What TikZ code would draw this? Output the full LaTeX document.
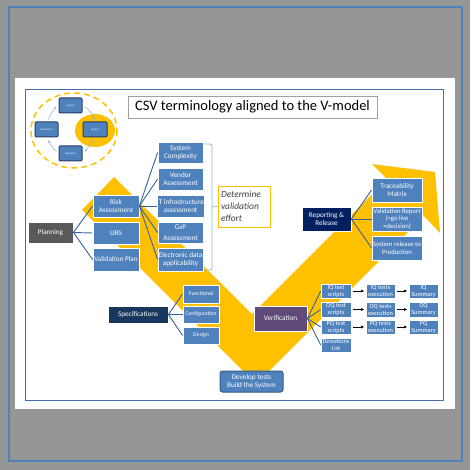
\documentclass[tikz,border=0pt]{standalone}
\usepackage{fontspec}
\setmainfont{Carlito}
\usetikzlibrary{arrows.meta}
\definecolor{frameblue}{RGB}{79,129,189}
\definecolor{slideborder}{RGB}{68,110,170}
\definecolor{boxblue}{RGB}{79,129,189}
\definecolor{lineblue}{RGB}{55,96,160}
\definecolor{plangray}{RGB}{89,89,89}
\definecolor{navyrep}{RGB}{0,32,96}
\definecolor{navyspec}{RGB}{23,55,94}
\definecolor{purplever}{RGB}{96,74,123}
\definecolor{vyellow}{RGB}{255,192,0}
\definecolor{devborder}{RGB}{56,93,138}
\definecolor{bracketblue}{RGB}{149,179,215}
\definecolor{titleborder}{RGB}{160,160,160}
\definecolor{minidark}{RGB}{40,60,100}
\definecolor{miniarr}{RGB}{142,180,227}
\definecolor{dettext}{RGB}{64,64,64}
\begin{document}
\begin{tikzpicture}[x=1pt,y=-1pt,
  bbox/.style={rectangle, fill=boxblue, draw=white, line width=0.8pt, text=white, align=center, inner sep=0pt, font=\fontsize{7.2}{7.8}\selectfont},
  sbox/.style={bbox, font=\fontsize{6.3}{7}\selectfont, line width=0.6pt},
  subbox/.style={bbox, font=\fontsize{5.7}{6.5}\selectfont},
  conn/.style={draw=lineblue, line width=0.9pt},
  blk/.style={draw=black, line width=1pt, -{Latex[length=3pt,width=3pt]}},
  minibox/.style={rectangle, fill=boxblue, draw=minidark, line width=1pt, rounded corners=1pt, text=white, inner sep=0pt, font=\fontsize{2.6}{3}\selectfont, minimum width=23pt, minimum height=15pt},
  miniarrow/.style={draw=miniarr, line width=0.6pt, -{Stealth[length=2.5pt,width=2.5pt]}}
]
\useasboundingbox (0,0) rectangle (470,470);
\path[fill=black!41] (0,0) rectangle (470,470);
\path[fill=white] (15,78) rectangle (455,409);
\draw[frameblue, line width=2pt] (9,7) rectangle (462,461);
\draw[slideborder, line width=1pt] (25,90) rectangle (443,400);
% V-model arrow
\fill[vyellow] (114,177) -- (252,314) -- (387,179) -- (372,164) -- (435,172) -- (440,233) -- (424,216) -- (256,384) -- (82,210) -- cycle;
% lifecycle mini diagram
\draw[vyellow, line width=1.5pt, dash pattern=on 6pt off 4pt] (74,130.5) ellipse [x radius=43, y radius=37.5];
\fill[vyellow] (95,130.5) ellipse [x radius=20, y radius=16.5];
\node[minibox] (concept) at (70.5,105.5) {Concept};
\node[minibox, minimum width=24pt] (project) at (95,129.5) {Project};
\node[minibox] (retire) at (46.5,129.5) {Retirement};
\node[minibox] (operation) at (70.5,153.5) {Operation};
\draw[miniarrow] ([xshift=2pt,yshift=-1pt]concept.east) to[bend left=15] ([yshift=2pt]project.north);
\draw[miniarrow] ([xshift=-2pt,yshift=-2pt]project.south) to[bend left=10] ([xshift=2pt,yshift=2pt]operation.east);
\draw[miniarrow] ([xshift=-2pt,yshift=2pt]operation.west) to[bend left=10] ([xshift=2pt,yshift=-3pt]retire.south);
\draw[miniarrow] ([xshift=2pt,yshift=2pt]retire.north) to[bend left=10] ([xshift=-2pt,yshift=-1pt]concept.west);
% title
\node[draw=titleborder, line width=0.8pt, fill=white, minimum width=249pt, minimum height=22pt, inner sep=0pt, font=\fontsize{14.5}{16}\selectfont] (title) at (252.5,107) {CSV terminology aligned to the V-model};
% planning branch
\node[bbox, fill=plangray, minimum width=45pt, minimum height=21pt] (planning) at (50.5,232.5) {Planning};
\node[bbox, minimum width=46pt, minimum height=22pt] (risk) at (116,206) {Risk\\Assessment};
\node[bbox, minimum width=46pt, minimum height=22pt] (urs) at (116,233) {URS};
\node[bbox, minimum width=46pt, minimum height=23pt] (vplan) at (116,259.5) {Validation Plan};
\node[bbox, minimum width=45pt, minimum height=21pt] (syscomp) at (180.5,152.5) {System\\Complexity};
\node[bbox, minimum width=45pt, minimum height=22pt] (vendor) at (180.5,179) {Vendor\\Assessment};
\node[bbox, minimum width=45pt, minimum height=22pt] (itinfra) at (180.5,206) {IT infrastructure\\assessment};
\node[bbox, minimum width=45pt, minimum height=21pt] (gxp) at (180.5,232.5) {GxP\\[3pt]Assessment};
\node[bbox, minimum width=45pt, minimum height=23pt] (edata) at (180.5,259.5) {Electronic data\\applicability};
\foreach \c in {risk,urs,vplan} \draw[conn] (planning.east) -- (\c.west);
\foreach \c in {syscomp,vendor,itinfra,gxp,edata} \draw[conn] (risk.east) -- (\c.west);
% bracket and determine box
\draw[bracketblue, line width=0.8pt, rounded corners=2pt] (204,144) -- (212,144) -- (212,270) -- (204,270);
\coordinate (brk) at (212,207);
\node[draw=vyellow, line width=0.9pt, fill=white, minimum width=52pt, minimum height=41pt, text width=46pt, align=left, inner sep=0pt, text=dettext, font=\itshape\fontsize{9.4}{11.7}\selectfont] (det) at (244,206.5) {Determine\\validation\\effort};
\draw[bracketblue, line width=0.8pt] (brk) -- (det.west);
% specifications
\node[bbox, fill=navyspec, minimum width=60pt, minimum height=17pt] (spec) at (138,314.5) {Specifications};
\node[subbox, minimum width=36pt, minimum height=18pt] (func) at (201,294) {Functional};
\node[subbox, minimum width=36pt, minimum height=17pt] (config) at (201,314.5) {Configuration};
\node[subbox, minimum width=36pt, minimum height=17pt] (design) at (201,335.5) {Design};
\foreach \c in {func,config,design} \draw[conn] (spec.east) -- (\c.west);
% verification
\node[bbox, fill=purplever, minimum width=53pt, minimum height=25pt] (verif) at (280.5,318.5) {Verification};
\node[sbox, minimum width=30pt, minimum height=14pt] (iq1) at (336,291) {IQ test\\scripts};
\node[sbox, minimum width=30pt, minimum height=15pt] (oq1) at (336,309.5) {OQ test\\scripts};
\node[sbox, minimum width=30pt, minimum height=14pt] (pq1) at (336,327) {PQ test\\scripts};
\node[sbox, minimum width=30pt, minimum height=14pt] (devl) at (336,345) {Deviations\\List};
\node[sbox, minimum width=29pt, minimum height=14pt] (iq2) at (380.5,291) {IQ tests\\execution};
\node[sbox, minimum width=29pt, minimum height=15pt] (oq2) at (380.5,309.5) {OQ tests\\execution};
\node[sbox, minimum width=29pt, minimum height=14pt] (pq2) at (380.5,327) {PQ tests\\execution};
\node[sbox, minimum width=29pt, minimum height=14pt] (iq3) at (423.5,291) {IQ\\Summary};
\node[sbox, minimum width=29pt, minimum height=15pt] (oq3) at (423.5,309.5) {OQ\\Summary};
\node[sbox, minimum width=29pt, minimum height=14pt] (pq3) at (423.5,327) {PQ\\Summary};
\foreach \c in {iq1,oq1,pq1,devl} \draw[conn] (verif.east) -- (\c.west);
\foreach \a/\b in {iq1/iq2,oq1/oq2,pq1/pq2,iq2/iq3,oq2/oq3,pq2/pq3} \draw[blk, shorten <=1.5pt, shorten >=1.5pt] (\a.east) -- (\b.west);
% reporting
\node[bbox, fill=navyrep, minimum width=49pt, minimum height=24pt] (rep) at (326.5,219) {Reporting \&\\Release};
\node[bbox, minimum width=50pt, minimum height=24pt] (trace) at (397,190) {Traceability\\Matrix};
\node[bbox, minimum width=50pt, minimum height=24pt, font=\fontsize{6.7}{7.4}\selectfont] (vrep) at (397,219) {Validation Report\\(=go live\\=decision)};
\node[bbox, minimum width=50pt, minimum height=24pt, font=\fontsize{6.7}{7.6}\selectfont] (sysrel) at (397,248) {System release to\\Production};
\foreach \c in {trace,vrep,sysrel} \draw[conn] (rep.east) -- (\c.west);
% develop
\node[rectangle, rounded corners=2.5pt, fill=boxblue, draw=devborder, line width=1pt, text=white, align=center, inner sep=0pt, minimum width=63pt, minimum height=21pt, font=\fontsize{7.2}{8.6}\selectfont] (develop) at (251.5,381.5) {Develop tests\\Build the System};
\end{tikzpicture}
\end{document}
